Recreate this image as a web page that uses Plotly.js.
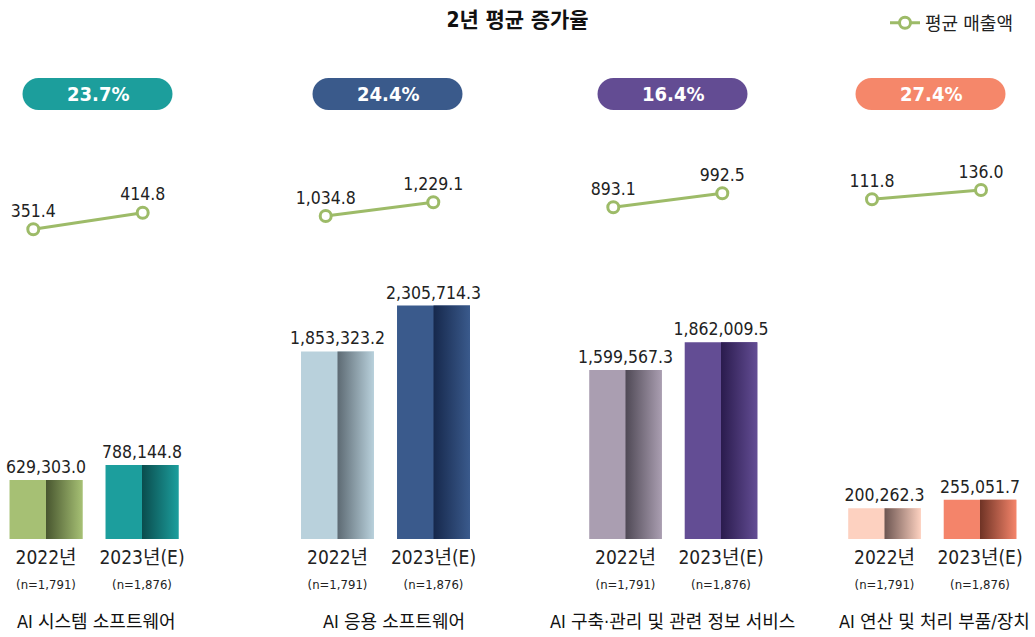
<!DOCTYPE html>
<html>
<head>
<meta charset="utf-8">
<script src="https://cdn.plot.ly/plotly-3.0.1.min.js"></script>
<style>html,body{margin:0;padding:0;background:#fff;}#chart{width:1035px;height:637px;}</style>
</head>
<body>
<div id="chart"></div>
<script>
// ---- data ----
const categories = ['AI 시스템 소프트웨어', 'AI 응용 소프트웨어', 'AI 구축·관리 및 관련 정보 서비스', 'AI 연산 및 처리 부품/장치'];
const years = ['2022년', '2023년(E)'];
const sampleSizes = ['(n=1,791)', '(n=1,876)'];
const sales2022 = [629303.0, 1853323.2, 1599567.3, 200262.3];
const sales2023 = [788144.8, 2305714.3, 1862009.5, 255051.7];
const avgSales2022 = [351.4, 1034.8, 893.1, 111.8];
const avgSales2023 = [414.8, 1229.1, 992.5, 136.0];
const growthRates = ['23.7%', '24.4%', '16.4%', '27.4%'];
const lineName = '평균 매출액';
const titleText = '2년 평균 증가율';

// ---- styles ----
const light2022 = ['#a6c074', '#b9d1dc', '#aa9eb1', '#fdd1c0'];
const dark2022  = ['#48562f', '#5d6a73', '#4f4955', '#6c5551'];
const light2023 = ['#1c9e9d', '#3a5a8c', '#634d94', '#f4846a'];
const dark2023  = ['#0a4c4d', '#16284c', '#2a1b4d', '#6f3325'];
const pillColors = ['#1c9e9c', '#3a5a8b', '#634c93', '#f5876a'];
const lineColor = '#9dbb68';
const FONT = '"DejaVu Sans Condensed", "Noto Sans CJK KR", sans-serif';

const W = 1035, H = 637;
const px = v => v / W;
const py = v => 1 - v / H;

// bar subplot geometry (pixels)
const barCenters = [[46, 142], [337.5, 433.5], [625.5, 721], [884.5, 980]];
const barRangeMax = [2878200, 2667300, 2553700, 1756100];
const linePts = [[33.3, 142.7], [325.7, 433.3], [613.3, 722.3], [872, 981]];
const lineRanges = [[234.15, 654.27], [410.77, 1970.84], [518.93, 1299.93], [-46.15, 240.09]];
const pillCenters = [97.5, 387.5, 672.5, 930.5];
const labelCenters = [96, 394, 672, 934];
const barHalf = 0.38;

const traces = [];
const layout = {
  width: W, height: H,
  margin: {l: 0, r: 0, t: 0, b: 0},
  paper_bgcolor: '#fff', plot_bgcolor: 'rgba(0,0,0,0)',
  font: {family: FONT, color: '#222'},
  showlegend: true,
  legend: {x: px(885), y: py(23), xanchor: 'left', yanchor: 'middle',
           font: {size: 18, color: '#222', family: FONT}, bgcolor: 'rgba(0,0,0,0)',
           itemwidth: 30},
  title: {text: titleText, x: 0.5, xanchor: 'center', y: py(20), yanchor: 'middle',
          font: {size: 21, color: '#111', family: FONT, weight: 'bold'}},
  shapes: [], annotations: []
};

const tickText = years.map((y, j) => y + '<br><span style="font-size:13px">' + sampleSizes[j] + '</span>');

categories.forEach((cat, i) => {
  const n = i + 1;
  const xa = 'x' + n, ya = 'y' + n;
  const c = (barCenters[i][0] + barCenters[i][1]) / 2;
  const unit = barCenters[i][1] - barCenters[i][0];
  const dom = [px(c - 0.9 * unit), px(c + 0.9 * unit)];
  layout['xaxis' + n] = {domain: dom, range: [-0.4, 1.4], anchor: ya,
    tickvals: [0, 1], ticktext: tickText, showgrid: false, zeroline: false,
    showline: false, ticks: '', ticklabelstandoff: 5,
    tickfont: {size: 19, color: '#222', family: FONT}, fixedrange: true};
  layout['yaxis' + n] = {domain: [py(539), py(269)], range: [0, barRangeMax[i]], anchor: xa,
    visible: false, fixedrange: true};

  const vals = [sales2022[i], sales2023[i]];
  traces.push({
    type: 'bar', x: [0, 1], y: vals, xaxis: xa, yaxis: ya,
    width: 2 * barHalf, marker: {color: [light2022[i], light2023[i]], line: {width: 0}},
    texttemplate: '%{y:,.1f}', textposition: 'outside', cliponaxis: false, constraintext: 'none',
    textfont: {size: 17.5, color: '#222', family: FONT},
    showlegend: false, hoverinfo: 'skip'
  });
  // gradient halves, derived from the values
  [[0, dark2022[i], light2022[i]], [1, dark2023[i], light2023[i]]].forEach(([j, d, l]) => {
    traces.push({
      type: 'scatter', mode: 'none', xaxis: xa, yaxis: ya,
      x: [j, j, j + barHalf, j + barHalf, j], y: [0, vals[j], vals[j], 0, 0],
      fill: 'toself', fillcolor: d,
      fillgradient: {type: 'horizontal', colorscale: [[0, d], [1, l]]},
      showlegend: false, hoverinfo: 'skip'
    });
  });

  // line subplot
  const lx = 'x' + (n + 4), ly = 'y' + (n + 4);
  layout['xaxis' + (n + 4)] = {domain: [px(linePts[i][0]), px(linePts[i][1])], range: [0, 1],
    anchor: ly, visible: false, fixedrange: true};
  layout['yaxis' + (n + 4)] = {domain: [py(260), py(150)], range: lineRanges[i], anchor: lx,
    visible: false, fixedrange: true};
  traces.push({
    type: 'scatter', mode: 'lines+markers+text', name: lineName,
    x: [0, 1], y: [avgSales2022[i], avgSales2023[i]], xaxis: lx, yaxis: ly,
    line: {color: lineColor, width: 3},
    marker: {symbol: 'circle', size: 11, color: '#fff', line: {color: lineColor, width: 3}},
    texttemplate: '%{y:,.1f}', textposition: 'top center', cliponaxis: false,
    textfont: {size: 17.5, color: '#222', family: FONT},
    showlegend: i === 0, hoverinfo: 'skip'
  });

  // growth-rate pill
  layout.shapes.push({
    type: 'path', xref: 'paper', yref: 'paper', xsizemode: 'pixel', ysizemode: 'pixel',
    xanchor: px(pillCenters[i]), yanchor: py(94),
    path: 'M -59,-16 H 59 C 67.84,-16 75,-8.84 75,0 C 75,8.84 67.84,16 59,16 H -59 C -67.84,16 -75,8.84 -75,0 C -75,-8.84 -67.84,-16 -59,-16 Z',
    fillcolor: pillColors[i], line: {width: 0}
  });
  layout.annotations.push({
    xref: 'paper', yref: 'paper', x: px(pillCenters[i]), y: py(94), xanchor: 'center', yanchor: 'middle',
    text: growthRates[i], showarrow: false,
    font: {size: 20, color: '#fff', family: FONT, weight: 'bold'}
  });
  // category label
  layout.annotations.push({
    xref: 'paper', yref: 'paper', x: px(labelCenters[i]), y: py(621), xanchor: 'center', yanchor: 'middle',
    text: cat, showarrow: false, font: {size: 18, color: '#111', family: FONT}
  });
});

Plotly.newPlot('chart', traces, layout, {displayModeBar: false, staticPlot: true});
</script>
</body>
</html>
